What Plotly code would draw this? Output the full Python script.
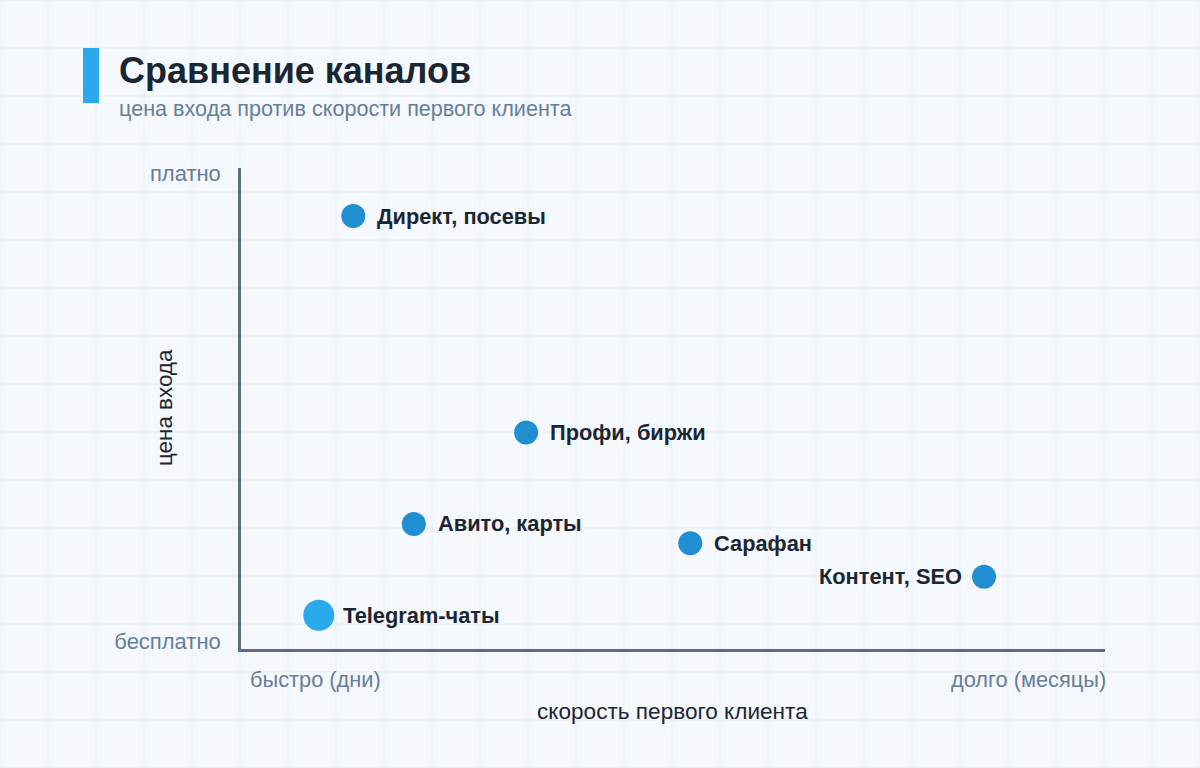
import plotly.graph_objects as go

# --------------------------------------------------
# DATA
# --------------------------------------------------

channels = ["Директ, посевы", "Профи, биржи", "Авито, карты",
            "Сарафан", "Контент, SEO", "Telegram-чаты"]
speed = [1.3, 3.3, 2.0, 5.2, 8.6, 0.9]      # 0 = быстро, 10 = долго
price = [9.0, 4.5, 2.6, 2.2, 1.5, 0.7]      # 0 = бесплатно, 10 = платно

highlight = "Telegram-чаты"

y_ticks = [0.15, 9.9]
y_ticktext = ["бесплатно", "платно"]
x_left_label = "быстро (дни)"
x_right_label = "долго (месяцы)"
x_title = "скорость первого клиента"
y_title = "цена входа"

title = "Сравнение каналов"
subtitle = "цена входа против скорости первого клиента"

# --------------------------------------------------
# LAYOUT CONSTANTS
# --------------------------------------------------

W, H = 1200, 768
L, R, T, B = 241, 95, 168, 119
PW, PH = W - L - R, H - T - B

BG = "#f5f8fd"
GRID = "#e7eef8"
BLUE = "#1f8fd1"
LIGHT_BLUE = "#2aa9ec"
DARK = "#1c2631"
MUTED = "#667e99"
AXIS = "#5b6e86"
FONT = "Liberation Sans, Arial, sans-serif"


def px_x(px):
    return (px - L) / PW


def px_y(py):
    return (H - B - py) / PH


fig = go.Figure()

colors = [LIGHT_BLUE if c == highlight else BLUE for c in channels]
sizes = [31 if c == highlight else 24 for c in channels]

fig.add_trace(
    go.Scatter(
        x=speed,
        y=price,
        mode="markers",
        marker=dict(color=colors, size=sizes, opacity=1, line=dict(width=0)),
        text=channels,
        hoverinfo="text",
        showlegend=False
    )
)

# point labels
for name, x, y in zip(channels, speed, price):
    left = x > 8
    fig.add_annotation(
        x=x, y=y, xref="x", yref="y",
        text=f"<b>{name}</b>",
        showarrow=False,
        xanchor="right" if left else "left",
        yanchor="middle",
        xshift=-20 if left else 22,
        font=dict(size=21.8, color=DARK, family=FONT)
    )

# x end labels
fig.add_annotation(
    x=0, y=0, xref="paper", yref="paper",
    text=x_left_label, showarrow=False,
    xanchor="left", yanchor="middle", xshift=7, yshift=-30,
    font=dict(size=21.8, color=MUTED, family=FONT)
)
fig.add_annotation(
    x=1, y=0, xref="paper", yref="paper",
    text=x_right_label, showarrow=False,
    xanchor="right", yanchor="middle", xshift=3, yshift=-30,
    font=dict(size=21.8, color=MUTED, family=FONT)
)

# axis titles
fig.add_annotation(
    x=px_x(672), y=px_y(711), xref="paper", yref="paper",
    text=x_title, showarrow=False,
    xanchor="center", yanchor="middle",
    font=dict(size=22.6, color=DARK, family=FONT)
)
fig.add_annotation(
    x=px_x(164), y=px_y(408), xref="paper", yref="paper",
    text=y_title, showarrow=False, textangle=-90,
    xanchor="center", yanchor="middle",
    font=dict(size=22.4, color=DARK, family=FONT)
)

# title block
fig.add_annotation(
    x=px_x(117), y=px_y(70), xref="paper", yref="paper",
    text=f"<b>{title}</b>", showarrow=False,
    xanchor="left", yanchor="middle",
    font=dict(size=36, color=DARK, family=FONT)
)
fig.add_annotation(
    x=px_x(117), y=px_y(108), xref="paper", yref="paper",
    text=subtitle, showarrow=False,
    xanchor="left", yanchor="middle",
    font=dict(size=21.6, color=MUTED, family=FONT)
)

# background grid (48px) + accent bar
shapes = []
for gx in range(0, W + 1, 48):
    shapes.append(dict(type="line", xref="paper", yref="paper",
                       x0=px_x(gx), x1=px_x(gx), y0=px_y(0), y1=px_y(H),
                       line=dict(color=GRID, width=1), layer="below"))
for gy in range(0, H + 1, 48):
    shapes.append(dict(type="line", xref="paper", yref="paper",
                       x0=px_x(0), x1=px_x(W), y0=px_y(gy), y1=px_y(gy),
                       line=dict(color=GRID, width=1), layer="below"))
shapes.append(dict(type="rect", xref="paper", yref="paper",
                   x0=px_x(83), x1=px_x(99), y0=px_y(48), y1=px_y(103),
                   fillcolor=LIGHT_BLUE, line=dict(width=0), layer="above"))

fig.update_layout(
    width=W,
    height=H,
    margin=dict(l=L, r=R, t=T, b=B),
    paper_bgcolor=BG,
    plot_bgcolor="rgba(0,0,0,0)",
    font=dict(family=FONT, size=22, color=DARK),
    shapes=shapes,
    xaxis=dict(
        range=[0, 10],
        showgrid=False,
        zeroline=False,
        showline=True,
        linecolor=AXIS,
        linewidth=2.5,
        showticklabels=False,
        ticks=""
    ),
    yaxis=dict(
        range=[0, 10],
        showgrid=False,
        zeroline=False,
        showline=True,
        linecolor=AXIS,
        linewidth=2.5,
        ticks="",
        tickmode="array",
        tickvals=y_ticks,
        ticktext=y_ticktext,
        tickfont=dict(size=22, color=MUTED),
        ticklabelstandoff=13
    ),
    hovermode="closest"
)

# the page has a default 8px body margin; drop it so the figure sits at 0,0
fig.write_html(
    "out.html",
    config={"displayModeBar": False},
    post_script="document.body.style.margin = '0';"
)
